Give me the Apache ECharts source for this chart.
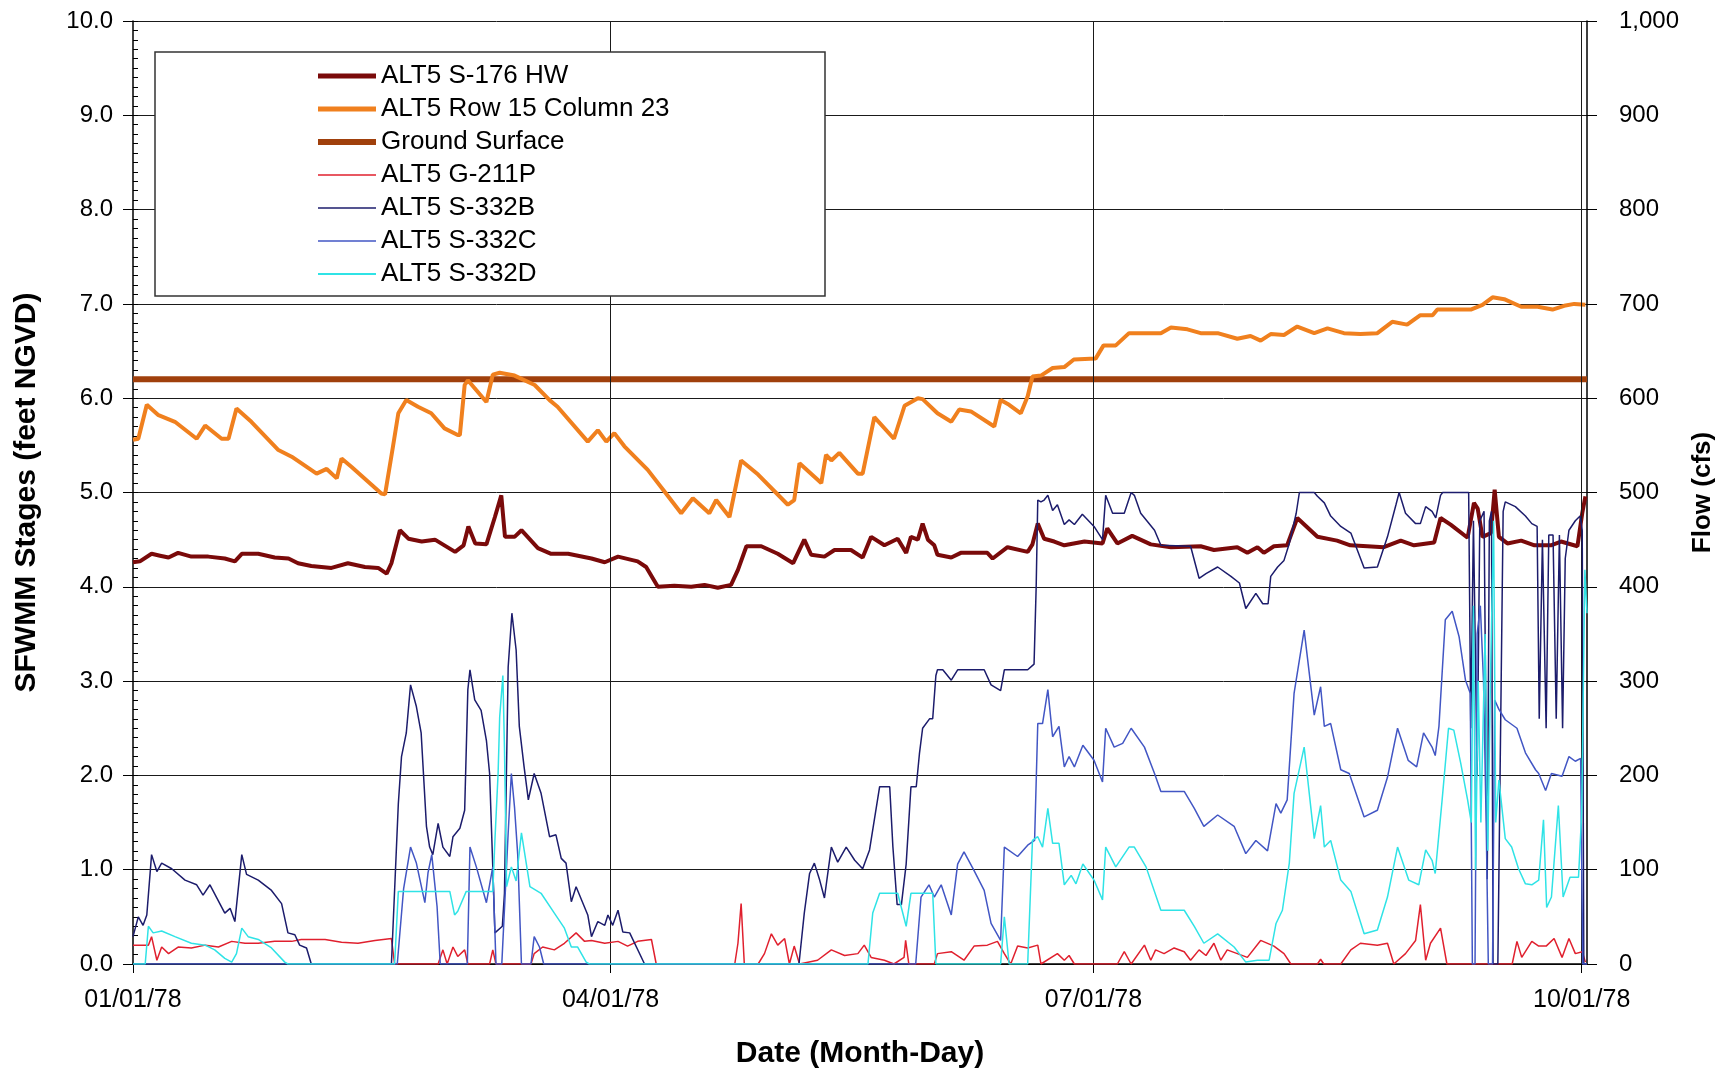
<!DOCTYPE html>
<html>
<head>
<meta charset="utf-8">
<script src="https://cdn.jsdelivr.net/npm/echarts@6/dist/echarts.min.js"></script>
<style>
html,body{margin:0;padding:0;background:#fff;}
#chart{width:1727px;height:1075px;}
</style>
</head>
<body>
<div id="chart"></div>
<script>
// x values are days since 01/01/78
const xTickDays = [0, 90, 181, 273];
const xTickLabels = ['01/01/78', '04/01/78', '07/01/78', '10/01/78'];
const seriesNames = ['ALT5 S-176 HW', 'ALT5 Row 15 Column 23', 'Ground Surface', 'ALT5 G-211P', 'ALT5 S-332B', 'ALT5 S-332C', 'ALT5 S-332D'];

// Stages (feet NGVD), left axis
const s176hw = [[0,4.26],[1.3,4.27],[3.5,4.35],[5.1,4.33],[6.7,4.31],[8.5,4.36],[11,4.32],[14.2,4.32],[17.3,4.30],[19.2,4.27],[20.5,4.35],[23.6,4.35],[26.7,4.31],[29.3,4.30],[31.1,4.25],[33.6,4.22],[37.4,4.20],[40.5,4.25],[43.7,4.21],[46.2,4.20],[47.8,4.14],[48.7,4.25],[50.3,4.60],[51.9,4.51],[54.4,4.48],[56.9,4.50],[60.7,4.37],[62.3,4.44],[63.2,4.64],[64.5,4.46],[66.6,4.45],[68.2,4.74],[69.4,4.97],[70.1,4.53],[71.9,4.53],[73.2,4.60],[76.3,4.41],[78.8,4.35],[82,4.35],[86.4,4.30],[88.9,4.26],[91.4,4.32],[95.1,4.27],[96.7,4.21],[98.9,4.00],[102,4.01],[105.2,4.00],[107.7,4.02],[110.2,3.99],[112.7,4.02],[114,4.18],[115.6,4.43],[118.4,4.43],[121.5,4.35],[124.4,4.25],[126.5,4.50],[127.8,4.34],[130.3,4.32],[132.2,4.39],[135.3,4.39],[137.5,4.31],[139.1,4.53],[141.6,4.44],[144.1,4.51],[145.7,4.36],[146.6,4.53],[147.9,4.50],[148.8,4.67],[149.8,4.50],[151,4.44],[151.6,4.34],[154.2,4.31],[156,4.36],[161,4.36],[162,4.30],[164.8,4.42],[168.6,4.37],[169.5,4.45],[170.5,4.67],[171.7,4.51],[173.6,4.48],[175.5,4.44],[179.3,4.48],[182.7,4.46],[183.6,4.62],[185.5,4.46],[188.3,4.54],[191.8,4.45],[195.6,4.42],[201.2,4.43],[203.7,4.39],[208.1,4.42],[210,4.36],[211.9,4.42],[213.1,4.36],[215,4.43],[217.5,4.44],[219.4,4.73],[223.2,4.53],[226.9,4.49],[229.4,4.44],[232.6,4.43],[235.7,4.42],[238.9,4.49],[241.4,4.44],[245.2,4.47],[246.4,4.73],[248.3,4.66],[251.5,4.52],[252.7,4.89],[253.4,4.83],[254.3,4.53],[255.9,4.57],[256.6,5.03],[257.4,4.53],[259,4.46],[261.6,4.49],[264.1,4.44],[267.2,4.44],[269.1,4.48],[272.2,4.43],[273.1,4.78],[273.7,4.96]];

const row15col23 = [[0,5.56],[1,5.57],[2.6,5.93],[4.8,5.82],[7.9,5.75],[12,5.57],[13.6,5.71],[16.7,5.57],[18,5.57],[19.5,5.89],[22.3,5.75],[27.4,5.45],[29.9,5.38],[34.6,5.20],[36.5,5.25],[38.4,5.15],[39.3,5.36],[41.2,5.27],[46.8,4.99],[47.5,4.98],[49,5.49],[50,5.84],[51.5,5.98],[53.7,5.91],[56.2,5.84],[58.7,5.68],[61.2,5.61],[61.6,5.61],[62.5,6.14],[63.1,6.19],[66.6,5.96],[67.8,6.25],[69.1,6.27],[71.9,6.24],[75.7,6.14],[78.5,5.98],[80,5.91],[85.7,5.54],[87.6,5.66],[89.2,5.54],[90.7,5.63],[92.6,5.49],[97,5.24],[99.9,5.03],[103.3,4.78],[105.5,4.94],[108.6,4.78],[109.9,4.92],[112.4,4.74],[114.6,5.34],[117.8,5.19],[123.4,4.87],[124.6,4.92],[125.6,5.31],[129.7,5.10],[130.6,5.40],[131.6,5.34],[133.1,5.42],[136.6,5.20],[137.5,5.20],[139.7,5.80],[143.4,5.57],[145.4,5.92],[147.9,6.00],[148.8,5.99],[151.6,5.84],[154.2,5.75],[155.7,5.88],[157.9,5.86],[162.3,5.70],[163.5,5.98],[165.1,5.93],[167.3,5.84],[168.6,6.02],[169.5,6.23],[171.1,6.24],[173.3,6.32],[175.5,6.33],[177.3,6.41],[181.4,6.42],[182.9,6.56],[185.2,6.56],[187.7,6.69],[193.7,6.69],[195.6,6.75],[198.7,6.73],[201.2,6.69],[204.4,6.69],[208.1,6.63],[210.6,6.66],[212.5,6.61],[214.4,6.68],[216.9,6.67],[219.4,6.76],[222.6,6.69],[225.1,6.74],[228.2,6.69],[231.3,6.68],[234.5,6.69],[237.3,6.81],[240.1,6.78],[242.6,6.88],[244.9,6.88],[245.8,6.94],[252.1,6.94],[254.3,6.99],[256.2,7.07],[258.4,7.05],[261.6,6.97],[264.7,6.97],[267.5,6.94],[269.7,6.98],[271.6,7.00],[273.7,6.99]];

const groundSurface = [[0,6.2],[274,6.2]];

// Flows (cfs), right axis
const g211p = [[0,20],[2.9,20],[3.5,29],[4.5,4],[5.4,18],[6.7,11],[8.5,18],[11,17],[13.6,20],[16.1,18],[18.6,24],[21.1,22],[23.6,22],[26.7,24],[29.9,24],[31.7,26],[36.2,26],[39.3,23],[42.4,22],[45.6,25],[48.7,27],[49.3,0],[57.5,0],[58.4,15],[59.2,0],[60.3,18],[61.2,8],[62.5,15],[63.1,0],[67.2,0],[67.8,15],[68.4,0],[75,0],[75.6,11],[77.2,18],[79.4,15],[81.3,22],[83.5,33],[85.1,24],[86.4,25],[88.9,22],[91.4,24],[93.2,19],[95.1,24],[97.7,26],[98.6,0],[113.4,0],[114,22],[114.6,64],[115.2,0],[117.8,0],[119,11],[120.3,32],[121.5,20],[122.8,27],[123.7,0],[124.6,19],[125.6,0],[129,4],[131.6,15],[134.1,9],[136.6,11],[137.8,20],[139.1,7],[141.6,4],[143.4,0],[145.3,7],[145.6,25],[146.2,0],[151,0],[151.6,11],[154.2,13],[156.6,4],[158.5,19],[161,20],[162.9,24],[164.2,11],[165.4,0],[166.7,19],[168.6,17],[170.5,20],[171.1,0],[174.2,11],[175.5,4],[176.4,9],[177.4,0],[185.5,0],[186.8,13],[188.1,0],[190.6,20],[191.8,4],[192.7,15],[194.3,11],[196.2,17],[198.1,13],[199.3,4],[200.9,15],[202.2,9],[203.7,22],[205,4],[206.2,15],[208.1,11],[210,7],[212.5,25],[215,19],[216.9,11],[218.2,0],[223.2,0],[223.8,5],[224.4,0],[227.6,0],[229.5,15],[231.3,22],[234.5,20],[236.4,22],[237.6,0],[239.8,11],[241.7,25],[242.6,63],[243.6,4],[244.5,22],[246.4,38],[247.6,0],[259.9,0],[260.8,24],[261.7,7],[263.6,24],[264.9,19],[266.3,19],[267.8,27],[269.3,7],[270.6,27],[271.8,11],[273.1,13],[273.7,2]];

const s332b = [[0,29],[1,50],[1.9,41],[2.6,52],[3.5,116],[4.5,98],[5.4,107],[7.3,101],[9.8,89],[12,84],[13.2,73],[14.5,84],[17.3,54],[18.3,59],[19.2,45],[20.5,116],[21.4,95],[23.6,89],[26.1,78],[28,64],[29.2,33],[30.5,31],[31.4,20],[32.7,17],[33.6,0],[48.7,0],[50,170],[50.6,220],[51.5,245],[52.3,296],[53.4,273],[54.3,245],[55.3,146],[55.9,124],[56.5,116],[57.5,149],[58.4,124],[59.7,114],[60.3,135],[61.6,144],[62.5,163],[63.1,291],[63.5,312],[64.4,280],[65.6,269],[66.6,237],[67.2,202],[67.8,103],[68.2,33],[69.6,40],[70,75],[70.7,315],[71.4,372],[72.2,333],[72.8,252],[73.7,209],[74.5,174],[75.6,202],[76.9,181],[78.5,135],[79.7,137],[80.7,112],[81.6,107],[82.6,66],[83.5,82],[85.7,52],[86.4,29],[87.6,45],[88.9,41],[89.5,52],[90.4,41],[91.4,57],[92.3,34],[93.6,33],[96.4,0],[125.5,0],[126.5,54],[127.5,96],[128.4,107],[129.4,89],[130.3,70],[131.6,124],[132.8,108],[134.4,124],[136,110],[137.5,101],[138.8,121],[140.7,188],[142.6,188],[143.2,124],[144,63],[144.8,63],[145.7,106],[146.6,188],[147.6,188],[148.2,223],[148.8,250],[150.1,260],[150.7,260],[151.3,306],[151.6,312],[152.6,312],[154.2,301],[155.4,312],[160.4,312],[161.7,296],[163.5,290],[164.2,312],[168.6,312],[169.8,318],[170.2,400],[170.5,492],[171.1,490],[171.7,492],[172.4,497],[173.3,481],[174.2,487],[175.5,466],[176.4,471],[177.4,466],[178.9,477],[181.1,464],[182.7,450],[183.3,497],[184.6,478],[186.8,478],[188.1,500],[188.7,497],[189.9,478],[192.5,460],[193.7,444],[199.3,443],[200.9,409],[202.2,414],[204.4,421],[206.9,411],[208.5,404],[209.7,377],[211.6,393],[212.9,382],[213.9,382],[214.4,411],[215.7,421],[216.9,428],[217.9,446],[219.2,478],[219.8,500],[222.6,500],[223.2,496],[224.5,489],[225.7,475],[227.6,464],[229.5,457],[232,420],[234.5,421],[236.4,453],[238,487],[238.6,500],[239.8,478],[241.7,467],[242.6,467],[243.6,485],[244.8,480],[245.5,473],[246.4,497],[246.8,500],[251.7,500],[252.1,250],[252.6,470],[253.3,200],[253.8,470],[254.6,480],[255.2,90],[255.6,470],[256,480],[256.3,0],[257.2,0],[258.2,480],[258.6,490],[260.5,485],[262.4,475],[263.6,467],[264.6,464],[265,260],[265.6,450],[266.3,250],[266.8,455],[267.6,455],[268.2,260],[268.8,455],[269.4,250],[269.9,430],[270.6,460],[271.8,470],[272.7,475],[273.1,460],[273.4,0],[274,0]];

const s332c = [[0,0],[49.8,0],[51,80],[52.3,124],[53.4,107],[55,65],[55.6,97],[56.3,116],[57.3,61],[57.9,0],[63,0],[63.5,124],[64.7,103],[66.6,65],[67.8,103],[68.4,0],[69.5,0],[70.7,139],[71.3,202],[71.9,166],[72.5,116],[73.2,0],[75,0],[75.6,29],[76.6,18],[77.4,0],[147.5,0],[148.5,71],[150,84],[151,71],[152.3,84],[154.2,52],[155.4,106],[156.6,119],[158.5,99],[160.4,78],[161.7,43],[163.5,25],[164.2,124],[166.7,114],[168.6,126],[169.9,131],[170.5,255],[171.4,255],[172.4,291],[173.3,241],[174.5,252],[175.5,209],[176.4,220],[177.4,209],[179,232],[181.1,216],[182.7,193],[183.3,250],[184.9,230],[186.5,234],[188.1,250],[190.6,230],[192.5,202],[193.7,183],[198.1,183],[200,165],[201.8,146],[204.4,158],[207.5,146],[209.7,117],[211.6,131],[213.8,120],[215.4,170],[216.3,160],[217.5,174],[218.8,287],[220.7,354],[222.6,264],[223.8,294],[224.5,252],[225.7,255],[227.6,206],[229.2,202],[232,156],[234.5,163],[236.4,198],[238.3,250],[240.3,216],[241.9,209],[243.2,245],[244.8,230],[245.4,221],[246.1,252],[247.3,365],[248.6,374],[249.9,347],[251.1,301],[252,287],[252.4,0],[252.9,0],[253.3,350],[253.9,380],[254.5,300],[255,150],[255.4,0],[256.2,0],[256.6,280],[257.4,270],[258.6,259],[260.8,250],[262.4,224],[264.3,206],[264.9,202],[266.2,184],[267.3,202],[269.3,199],[270.6,220],[271.8,215],[272.8,218],[273.2,0],[274,0]];

const s332d = [[0,0],[2.3,0],[2.9,40],[3.8,33],[5.4,35],[7.9,29],[11,22],[13.6,20],[15.4,15],[17.3,6],[18.6,2],[19.5,11],[20.5,38],[21.7,29],[23.6,26],[26.1,17],[28.6,2],[29.2,0],[49.3,0],[50,77],[59.7,77],[60.6,52],[61.2,56],[62.8,77],[67.8,77],[68.2,131],[68.8,202],[69.1,262],[69.7,306],[70,230],[70.4,82],[71.3,103],[72.2,88],[73.2,139],[74.8,82],[76.9,75],[79.4,54],[81.3,38],[82.6,18],[83.8,18],[85.4,2],[86,0],[138.5,0],[139.4,54],[140.7,75],[144.1,75],[145.7,40],[146.6,75],[150.7,75],[151.3,0],[163.5,0],[164.2,50],[165.1,0],[168.6,0],[169.5,131],[170.5,135],[171.4,124],[172.4,165],[173.3,128],[174.5,128],[175.5,84],[176.8,94],[177.7,85],[179,106],[181.1,89],[182.7,68],[183.3,124],[185.2,103],[187.7,124],[188.7,124],[190.9,103],[193.7,57],[198.1,57],[200,40],[201.8,22],[204.4,32],[207.5,18],[209.7,2],[211.9,4],[214.1,4],[215.4,43],[216.6,57],[217.9,107],[218.8,181],[220.7,230],[222.6,133],[223.8,168],[224.5,124],[225.7,131],[227.6,89],[229.5,77],[232,32],[234.5,36],[236.4,71],[238.3,124],[240.4,89],[242.3,84],[243.6,121],[244.8,110],[245.4,96],[246.7,174],[247.9,250],[248.9,248],[250.2,213],[251.5,174],[252.2,150],[252.6,380],[253,100],[253.5,300],[254,150],[254.8,350],[255.3,120],[255.8,300],[256.4,470],[256.8,150],[257.4,195],[258.6,133],[259.8,124],[261.1,101],[262.4,85],[263.6,84],[264.9,89],[265.8,153],[266.4,60],[267.3,71],[268.6,168],[269.5,71],[270.8,92],[272.4,92],[273,160],[273.6,418],[274,372]];

const gridDays = [90, 181, 273];

const FONT = "'Liberation Sans', Arial, sans-serif";
const chart = echarts.init(document.getElementById('chart'), null, {renderer: 'canvas'});

const seriesColors = {
  'ALT5 S-176 HW': '#7A0A0A',
  'ALT5 Row 15 Column 23': '#F0801E',
  'Ground Surface': '#A0400C',
  'ALT5 G-211P': '#E0202E',
  'ALT5 S-332B': '#1C1C6C',
  'ALT5 S-332C': '#4256C4',
  'ALT5 S-332D': '#2FE3E6'
};
const legendWidths = [5, 5, 6, 1.5, 1.5, 1.5, 2];

function lineSeries(name, data, yIdx, width, z) {
  const color = seriesColors[name];
  return {
    name: name, type: 'line', data: data, xAxisIndex: 0, yAxisIndex: yIdx,
    symbol: 'none', showSymbol: false, animation: false, z: z,
    lineStyle: {color: color, width: width}, itemStyle: {color: color},
    emphasis: {disabled: true}
  };
}

const option = {
  backgroundColor: '#ffffff',
  animation: false,
  textStyle: {fontFamily: FONT},
  grid: {left: 133, right: 140, top: 21, bottom: 111, containLabel: false},
  xAxis: {
    type: 'value', min: 0, max: 274,
    name: 'Date (Month-Day)', nameLocation: 'middle', nameGap: 75,
    nameTextStyle: {fontFamily: FONT, fontSize: 30, fontWeight: 'bold', color: '#000'},
    axisLine: {show: true, onZero: false, lineStyle: {color: '#000', width: 1.5}},
    axisTick: {show: true, customValues: xTickDays, length: 9, lineStyle: {color: '#000'}},
    axisLabel: {customValues: xTickDays, margin: 24, fontSize: 25, color: '#000', fontFamily: FONT,
      formatter: function (v) { const i = xTickDays.indexOf(Math.round(v)); return i >= 0 ? xTickLabels[i] : ''; }},
    splitLine: {show: false}
  },
  yAxis: [
    {
      type: 'value', position: 'left', min: 0, max: 10, interval: 1,
      name: 'SFWMM Stages (feet NGVD)', nameLocation: 'middle', nameGap: 91,
      nameTextStyle: {fontFamily: FONT, fontSize: 30, fontWeight: 'bold', color: '#000'},
      axisLine: {show: true, lineStyle: {color: '#000', width: 1.5}},
      axisTick: {show: true, length: 10, lineStyle: {color: '#000'}},
      axisLabel: {margin: 20, fontSize: 24, color: '#000', fontFamily: FONT, formatter: v => v.toFixed(1)},
      splitLine: {show: true, lineStyle: {color: '#1a1a1a', width: 1}}
    },
    {
      type: 'value', position: 'right', min: 0, max: 1000, interval: 100,
      name: 'Flow (cfs)', nameLocation: 'middle', nameGap: 103,
      nameTextStyle: {fontFamily: FONT, fontSize: 26, fontWeight: 'bold', color: '#000'},
      axisLine: {show: true, lineStyle: {color: '#000', width: 1.5}},
      axisTick: {show: true, length: 10, lineStyle: {color: '#000'}},
      axisLabel: {margin: 32, fontSize: 24, color: '#000', fontFamily: FONT,
        formatter: v => v.toLocaleString('en-US')},
      splitLine: {show: false}
    },
    {
      type: 'value', position: 'left', min: 0, max: 10, interval: 0.1,
      axisLine: {show: false}, axisLabel: {show: false}, splitLine: {show: false},
      axisTick: {show: true, inside: true, length: 5, lineStyle: {color: '#000'}}
    }
  ],
  legend: {
    data: seriesNames.map((n, i) => ({
      name: n,
      itemStyle: {color: 'rgba(0,0,0,0)', borderColor: 'rgba(0,0,0,0)', borderWidth: 0, opacity: 0},
      lineStyle: {color: seriesColors[n], width: legendWidths[i], opacity: 1}
    })),
    orient: 'vertical', left: 315, top: 63,
    itemWidth: 58, itemHeight: 14, itemGap: 7, padding: 0, z: 20,
    selectedMode: false,
    textStyle: {fontFamily: FONT, fontSize: 26, lineHeight: 25, color: '#000'}
  },
  graphic: [{
    type: 'rect', z: 10, silent: true,
    shape: {x: 155, y: 52, width: 670, height: 244},
    style: {fill: '#ffffff', stroke: '#333333', lineWidth: 1.5}
  }],
  series: [
    {
      name: '_grid', type: 'line', data: [[0, 0]], xAxisIndex: 0, yAxisIndex: 0,
      symbol: 'none', lineStyle: {opacity: 0}, z: 1, silent: true, animation: false,
      markLine: {
        silent: true, symbol: ['none', 'none'], animation: false,
        label: {show: false},
        lineStyle: {color: '#1a1a1a', width: 1, type: 'solid'},
        emphasis: {disabled: true},
        data: gridDays.map(d => ({xAxis: d}))
      }
    },
    lineSeries('Ground Surface', groundSurface, 0, 6, 3),
    lineSeries('ALT5 Row 15 Column 23', row15col23, 0, 4, 4),
    lineSeries('ALT5 S-176 HW', s176hw, 0, 4, 4),
    lineSeries('ALT5 G-211P', g211p, 1, 1.5, 5),
    lineSeries('ALT5 S-332B', s332b, 1, 1.5, 5),
    lineSeries('ALT5 S-332C', s332c, 1, 1.5, 5),
    lineSeries('ALT5 S-332D', s332d, 1, 1.5, 5)
  ]
};
chart.setOption(option);
</script>
</body>
</html>
